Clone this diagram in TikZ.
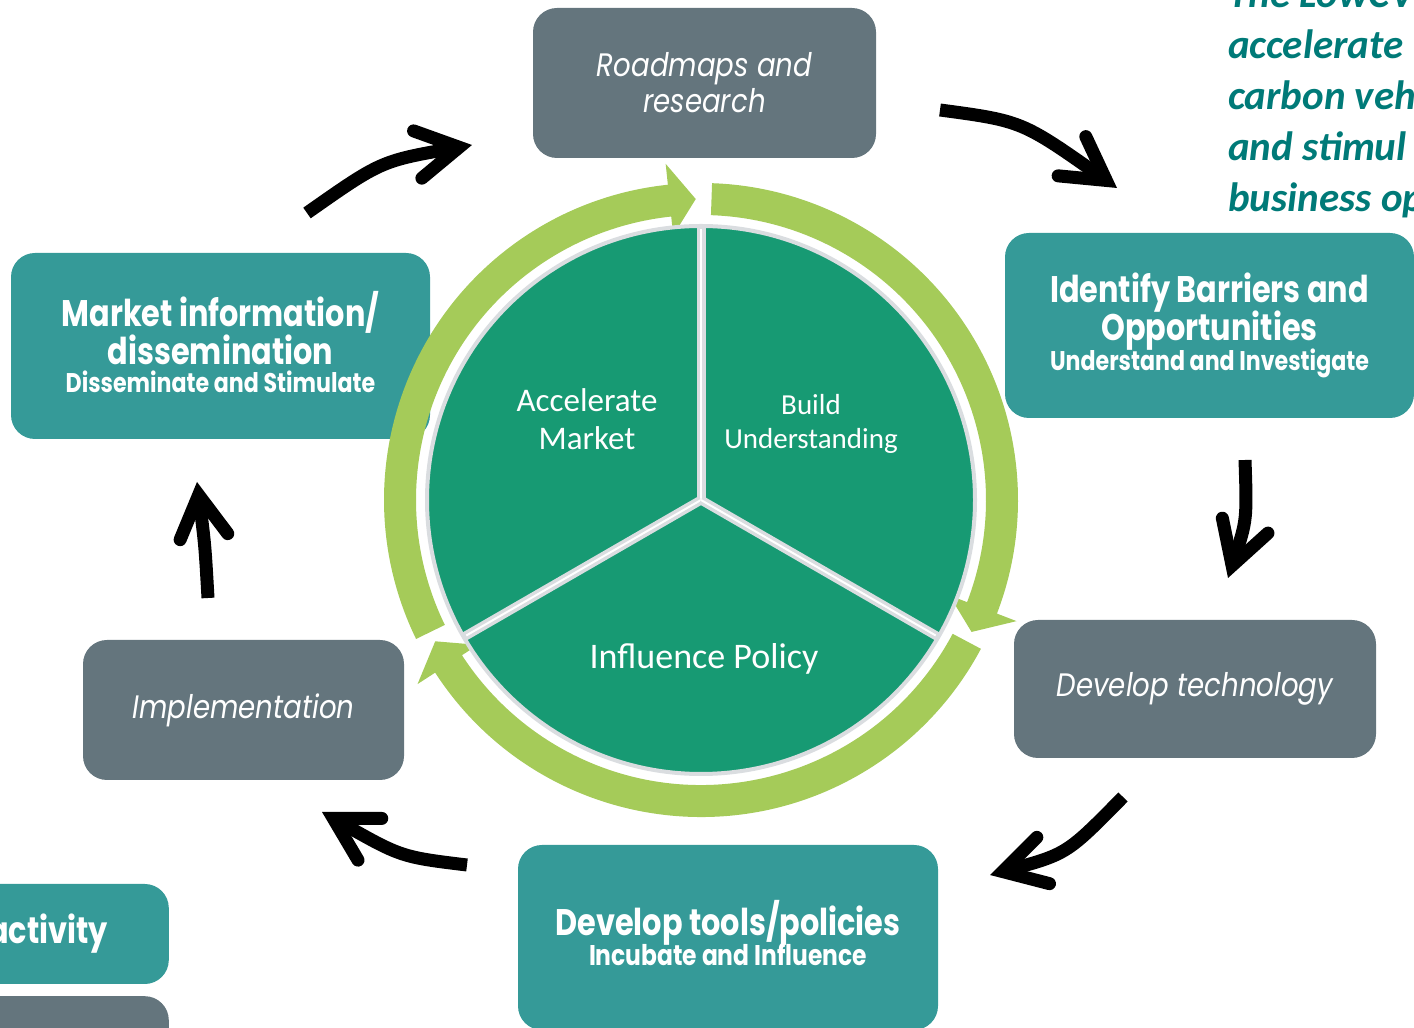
\documentclass[tikz,border=0pt]{standalone}
\usepackage{fontspec}
\setmainfont{Carlito}
\newfontfamily\boxfont[FakeStretch = 0.82]{Poppins}
\newfontfamily\stagefont[FakeStretch = 0.85]{Poppins}
\usetikzlibrary{arrows.meta}
\begin{document}
\begin{tikzpicture}[x = 1pt, y = 1pt,
  tealbox/.style = {fill = boxteal, rounded corners = 24, text = white, align = center, inner sep = 0, font = \boxfont\bfseries\fontsize{37}{36}\selectfont},
  greybox/.style = {fill = boxgrey, rounded corners = 24, text = white, align = center, inner sep = 0, font = \stagefont\itshape\fontsize{32.5}{36}\selectfont},
  flow/.style = {line width = 13, -{Straight Barb[length = 42pt, width = 48pt, line cap = round, line join = miter]}},
  pielabel/.style = {text = white, align = center, inner sep = 0},
  aimline/.style = {anchor = base west, inner sep = 0, text = aimteal, font = \bfseries\itshape\fontsize{41}{51}\selectfont}]
\definecolor{boxteal}{RGB}{53,154,152}
\definecolor{boxgrey}{RGB}{100,117,125}
\definecolor{piegreen}{RGB}{23,154,115}
\definecolor{ringgreen}{RGB}{165,203,89}
\definecolor{pieline}{RGB}{218,221,224}
\definecolor{aimteal}{RGB}{0,122,120}
\useasboundingbox (0,0) rectangle (1414,1028);
\clip (0,0) rectangle (1414,1028);
\node[greybox, minimum width = 343, minimum height = 150] (roadmaps) at (704.5,945) {Roadmaps and\\research};
\node[tealbox, minimum width = 409, minimum height = 185] (barriers) at (1209.5,702.5) {Identify Barriers and\\[-3pt]Opportunities\\[-6pt]\fontsize{27}{30}\selectfont Understand and Investigate};
\node[greybox, minimum width = 362, minimum height = 138] (technology) at (1195,339) {Develop technology};
\node[tealbox, minimum width = 420, minimum height = 185] (tools) at (728,90.5) {};
\node[font = \boxfont\bfseries\fontsize{37}{36}\selectfont, text = white, align = center, inner sep = 0] (toolstext) at (728,94.5) {Develop tools/policies\\[-6pt]\fontsize{28.5}{30}\selectfont Incubate and Influence};
\node[greybox, minimum width = 321, minimum height = 140] (implementation) at (243.5,318) {Implementation};
\node[tealbox, minimum width = 419, minimum height = 186] (dissemination) at (220.5,682) {};
\node[font = \boxfont\bfseries\fontsize{37}{36}\selectfont, text = white, align = center, inner sep = 0] (distext) at (220.5,686) {Market information/\\dissemination\\[-8pt]\fontsize{27}{28}\selectfont Disseminate and Stimulate};
\node[tealbox, anchor = east, minimum width = 420, minimum height = 100, text width = 298, align = right] (activity) at (169,94) {activity};
\node[greybox, anchor = north east, minimum width = 420, minimum height = 110] (nextbox) at (169,32) {};
\foreach \txt [count = \i] in {The LowCV, accelerate, carbon veh, and stimul, business op}
  \node[aimline] (aim\i) at (1228,1071-51*\i) {\txt};
\begin{scope}[shift = {(701,528)}]
\foreach \a/\b/\c in {206/96/91, 88/-21/-26, -28/-147/-152}
  \fill[ringgreen] (\a:285) arc[start angle = \a, end angle = \b, radius = 285] -- (\b:266) -- (\c:301) -- (\b:338) -- (\b:317) arc[start angle = \b, end angle = \a, radius = 317] -- cycle;
\foreach \a in {90, 210, 330}
  \fill[piegreen] (0,0) -- (\a:274) arc[start angle = \a, end angle = \a+120, radius = 274] -- cycle;
\draw[pieline, line width = 4] (0,0) circle[radius = 274];
\foreach \a in {90, 210, 330} {
  \draw[pieline, line width = 9] (0,0) -- (\a:274);
  \draw[white, line width = 2] (0,0) -- (\a:271);
}
\end{scope}
\node[pielabel, font = \fontsize{33}{38}\selectfont] (accelerate) at (587,609) {Accelerate\\Market};
\node[pielabel, font = \fontsize{29}{34}\selectfont] (build) at (811,604) {Build\\Understanding};
\node[pielabel, font = \fontsize{36}{40}\selectfont] (influence) at (704,369) {Influence Policy};
\coordinate (dis-tail) at (307,815);
\coordinate (road-head) at (472,883);
\coordinate (road-tail) at (940,918);
\coordinate (bar-head) at (1117,840);
\coordinate (bar-tail) at (1245,568);
\coordinate (tech-head) at (1228,450);
\coordinate (tech-tail) at (1123,231);
\coordinate (tools-head) at (990,153);
\coordinate (tools-tail) at (467,163);
\coordinate (impl-head) at (322,216);
\coordinate (impl-tail) at (208,430);
\coordinate (dis-head) at (197,546);
\draw[flow] (dis-tail) .. controls (381,867) .. (road-head);
\draw[flow] (road-tail) .. controls (1022,907) .. (bar-head);
\draw[flow] (bar-tail) .. controls (1247,508) .. (tech-head);
\draw[flow] (tech-tail) .. controls (1067,174) .. (tools-head);
\draw[flow] (tools-tail) .. controls (401,171) .. (impl-head);
\draw[flow] (impl-tail) .. controls (205,483) .. (dis-head);
\end{tikzpicture}
\end{document}
